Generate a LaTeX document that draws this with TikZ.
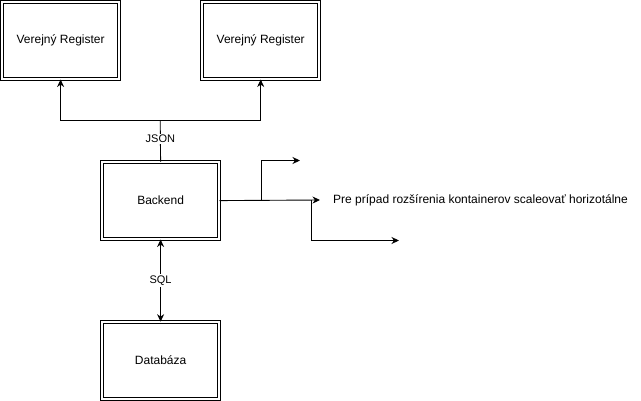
\documentclass[tikz,border=0pt]{standalone}
\usepackage{fontspec}
\setmainfont{Liberation Sans}
\usetikzlibrary{arrows.meta}
\begin{document}
\begin{tikzpicture}[x=1pt,y=-1pt,
  box/.style={draw=black,double=white,double distance=2.2pt,line width=0.8pt,minimum width=117pt,minimum height=77pt,inner sep=0pt,font=\fontsize{12}{14}\selectfont,anchor=north west},
  arr/.style={line width=0.9pt,-{Stealth[length=7.5pt,width=7pt,inset=2.4pt]}},
  biarr/.style={line width=0.9pt,{Stealth[length=7.5pt,width=7pt,inset=2.4pt]}-{Stealth[length=7.5pt,width=7pt,inset=2.4pt]}},
  lbl/.style={fill=white,inner sep=1.5pt,font=\fontsize{11}{13}\selectfont}]
\useasboundingbox (0,0) rectangle (641,401);
\node[box] (reg1) at (1.7,1.7) {Verejný Register};
\node[box] (reg2) at (201.8,1.7) {Verejný Register};
\node[box] (backend) at (101.7,161.7) {Backend};
\node[box] (db) at (101.7,321.7) {Databáza};
\node[anchor=west,inner xsep=13pt,inner ysep=2pt,font=\fontsize{12}{14}\selectfont] (note) at (320,200) {Pre prípad rozšírenia kontainerov scaleovať horizotálne};
\coordinate (split) at (160.2,120.5);
\coordinate (up1) at (261,200.2);
\coordinate (up2) at (261,160.5);
\coordinate (upend) at (300,160.5);
\coordinate (dn1) at (311,200.2);
\coordinate (dn2) at (311,240.5);
\coordinate (dnend) at (399,240.5);
\draw[line width=0.9pt] (backend.north) -- node[lbl,pos=0.55]{JSON} (split);
\draw[arr] (split) -| (reg1.south);
\draw[arr] (split) -| (reg2.south);
\draw[arr] (backend.east) -- (note.west);
\draw[arr] (up1) -- (up2) -- (upend);
\draw[arr] (dn1) -- (dn2) -- (dnend);
\draw[biarr] (backend.south) -- node[lbl,pos=0.5]{SQL} (db.north);
\end{tikzpicture}
\end{document}
